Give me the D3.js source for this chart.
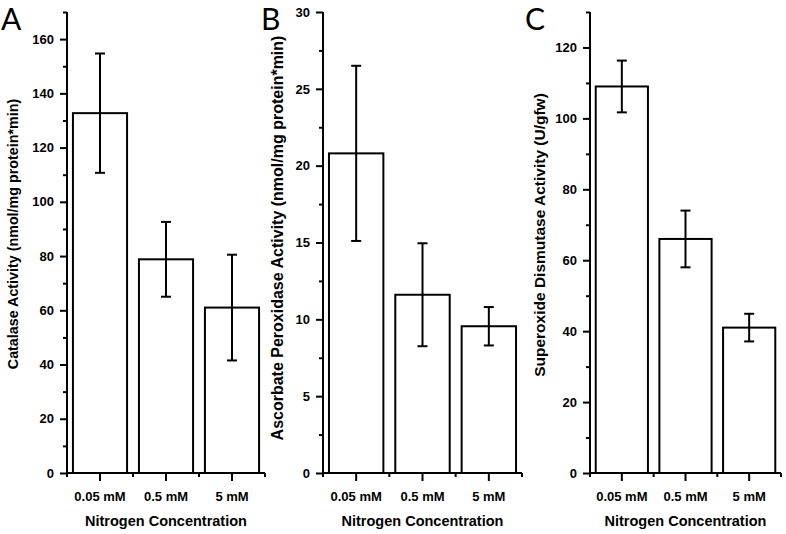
<!DOCTYPE html>
<html>
<head>
<meta charset="utf-8">
<script src="https://cdn.jsdelivr.net/npm/d3@7"></script>
<style>
  html, body { margin: 0; padding: 0; background: #fff; }
  svg { display: block; }
  .tick text { font-family: "Liberation Sans", Arial, sans-serif; font-weight: bold; font-size: 13px; fill: #000; }
</style>
</head>
<body>
<svg id="chart" width="786" height="534"></svg>
<script>
// ---- Data ----
const categories = ["0.05 mM", "0.5 mM", "5 mM"];
const xTitle = "Nitrogen Concentration";

const catalaseValues = [132.7, 78.8, 61.0];
const catalaseErrors = [22.0, 13.8, 19.5];
const catalaseTicks = [0, 20, 40, 60, 80, 100, 120, 140, 160];
const catalaseMinor = [10, 30, 50, 70, 90, 110, 130, 150, 170];

const apxValues = [20.8, 11.6, 9.55];
const apxErrors = [5.7, 3.35, 1.25];
const apxTicks = [0, 5, 10, 15, 20, 25, 30];
const apxMinor = [2.5, 7.5, 12.5, 17.5, 22.5, 27.5];

const sodValues = [109.0, 66.0, 41.0];
const sodErrors = [7.3, 8.0, 3.9];
const sodTicks = [0, 20, 40, 60, 80, 100, 120];
const sodMinor = [10, 30, 50, 70, 90, 110, 130];

const panelLetters = ["A", "B", "C"];
const yTitles = [
  "Catalase Activity (nmol/mg protein*min)",
  "Ascorbate Peroxidase Activity (nmol/mg protein*min)",
  "Superoxide Dismutase Activity (U/gfw)"
];

// ---- Layout ----
const panels = [
  { letter: panelLetters[0], title: yTitles[0], values: catalaseValues, errors: catalaseErrors,
    ticks: catalaseTicks, minor: catalaseMinor, yMax: 170, x0: 67, x1: 265,
    letterX: 1, titleX: 18, titleY: 234, titleSize: 14.3 },
  { letter: panelLetters[1], title: yTitles[1], values: apxValues, errors: apxErrors,
    ticks: apxTicks, minor: apxMinor, yMax: 30, x0: 323, x1: 522,
    letterX: 261, titleX: 283, titleY: 238, titleSize: 16 },
  { letter: panelLetters[2], title: yTitles[2], values: sodValues, errors: sodErrors,
    ticks: sodTicks, minor: sodMinor, yMax: 130, x0: 590, x1: 781,
    letterX: 525, titleX: 545, titleY: 235, titleSize: 15.5 }
];

const yBottom = 473, yTop = 12;
const svg = d3.select("#chart");
const font = '"Liberation Sans", Arial, sans-serif';

panels.forEach(p => {
  const g = svg.append("g");
  const y = d3.scaleLinear().domain([0, p.yMax]).range([yBottom, yTop]);
  const x = d3.scaleBand().domain(categories).range([p.x0, p.x1])
    .paddingInner(0.18).paddingOuter(0.09);

  // bars
  g.selectAll("rect.bar").data(categories).join("rect")
    .attr("class", "bar")
    .attr("x", d => x(d))
    .attr("width", x.bandwidth())
    .attr("y", (d, i) => y(p.values[i]))
    .attr("height", (d, i) => y(0) - y(p.values[i]))
    .attr("fill", "#fff")
    .attr("stroke", "#000")
    .attr("stroke-width", 2);

  // error bars
  const capW = 5;
  categories.forEach((c, i) => {
    const cx = x(c) + x.bandwidth() / 2;
    const hi = y(p.values[i] + p.errors[i]);
    const lo = y(p.values[i] - p.errors[i]);
    const eg = g.append("g").attr("stroke", "#000").attr("stroke-width", 2);
    eg.append("line").attr("x1", cx).attr("x2", cx).attr("y1", hi).attr("y2", lo);
    eg.append("line").attr("x1", cx - capW).attr("x2", cx + capW).attr("y1", hi).attr("y2", hi);
    eg.append("line").attr("x1", cx - capW).attr("x2", cx + capW).attr("y1", lo).attr("y2", lo);
  });

  // y axis minor
  const yMinorAxis = d3.axisLeft(y).tickValues(p.minor).tickSize(4).tickFormat("").tickSizeOuter(0);
  const gm = g.append("g").attr("transform", `translate(${p.x0},0)`).call(yMinorAxis);
  gm.select(".domain").remove();
  gm.selectAll("line").attr("stroke-width", 2);

  // y axis major
  const yAxis = d3.axisLeft(y).tickValues(p.ticks).tickSize(7).tickSizeOuter(0).tickPadding(6);
  const ga = g.append("g").attr("transform", `translate(${p.x0},0)`).call(yAxis);
  ga.select(".domain").remove();
  ga.selectAll("line").attr("stroke-width", 2);

  // y axis line
  g.append("line").attr("x1", p.x0).attr("x2", p.x0).attr("y1", y(p.yMax)).attr("y2", yBottom + 1)
    .attr("stroke", "#000").attr("stroke-width", 2);

  // x axis major
  const xAxis = d3.axisBottom(x).tickSize(8).tickSizeOuter(0).tickPadding(6);
  const gx = g.append("g").attr("transform", `translate(0,${yBottom})`).call(xAxis);
  gx.select(".domain").remove();
  gx.selectAll("line").attr("stroke-width", 2);
  gx.selectAll("text").attr("dy", "1.1em");

  // x axis minor ticks at band boundaries
  const bounds = d3.range(categories.length + 1).map(i => p.x0 + i * x.step());
  g.selectAll("line.xminor").data(bounds).join("line")
    .attr("class", "xminor")
    .attr("x1", d => d).attr("x2", d => d)
    .attr("y1", yBottom).attr("y2", yBottom + 4)
    .attr("stroke", "#000").attr("stroke-width", 2);

  // x axis line
  g.append("line").attr("x1", p.x0 - 1).attr("x2", p.x1).attr("y1", yBottom).attr("y2", yBottom)
    .attr("stroke", "#000").attr("stroke-width", 2);

  // x title
  g.append("text").attr("x", (p.x0 + p.x1) / 2).attr("y", 526)
    .attr("text-anchor", "middle")
    .style("font-family", font).style("font-weight", "bold").style("font-size", "14.5px")
    .text(xTitle);

  // y title
  g.append("text")
    .attr("transform", `translate(${p.titleX},${p.titleY}) rotate(-90)`)
    .attr("text-anchor", "middle")
    .style("font-family", font).style("font-weight", "bold").style("font-size", p.titleSize + "px")
    .text(p.title);

  // panel letter
  g.append("text").attr("x", p.letterX).attr("y", 30)
    .style("font-family", 'Lato, "Open Sans", sans-serif').style("font-size", "30px")
    .text(p.letter);
});
</script>
</body>
</html>
